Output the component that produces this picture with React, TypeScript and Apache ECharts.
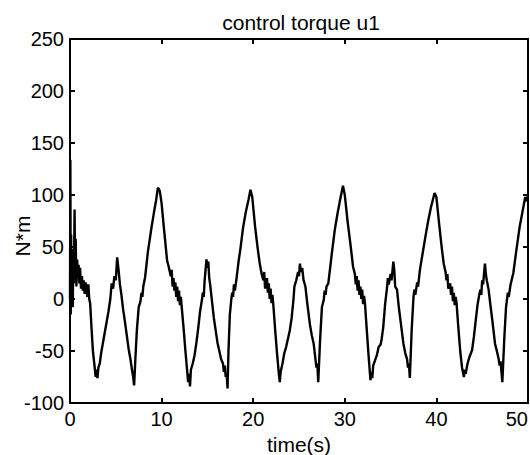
import React, { useEffect, useRef } from "react";
import * as echarts from "echarts";

const titleText = "control torque u1";
const xName = "time(s)";
const yName = "N*m";
const xTicks = [0, 10, 20, 30, 40, 50];
const yTicks = [-100, -50, 0, 50, 100, 150, 200, 250];

// cycle 1 (start-up transient)
const t1 = [0, 0.04, 0.08, 0.12, 0.18, 0.24, 0.3, 0.36, 0.42, 0.5, 0.56, 0.62, 0.7, 0.78, 0.86, 0.94, 1.02, 1.1, 1.2, 1.3, 1.4, 1.5, 1.6, 1.7, 1.8, 1.9, 2.0, 2.1, 2.2, 2.35, 2.5, 2.65, 2.8, 2.9, 3.0, 3.1, 3.25, 3.4, 3.6, 3.8, 4.0, 4.2, 4.4, 4.55, 4.7, 4.85, 5.0, 5.15, 5.3, 5.45, 5.6, 5.8, 6.0, 6.2, 6.4, 6.6, 6.8, 6.9, 7.0, 7.15, 7.3, 7.5, 7.7, 7.8, 7.9, 8.0, 8.2, 8.5, 8.9, 9.2, 9.4, 9.6];
const v1 = [0, 134, -15, 62, 5, 48, -8, 40, 15, 86, 22, 58, 12, 38, 20, 33, 15, 30, 10, 22, 8, 18, 5, 16, 10, 2, 14, 0, -4, -28, -50, -62, -75, -68, -76, -66, -62, -52, -42, -32, -22, -12, 0, 15, 10, 22, 18, 40, 28, 14, 5, -10, -22, -35, -48, -58, -70, -75, -83, -55, -30, -8, -2, 6, 2, 12, 21, 45, 69, 85, 95, 107];

// cycle 2
const t2 = [9.8, 10.0, 10.2, 10.4, 10.6, 10.8, 11.0, 11.1, 11.2, 11.3, 11.4, 11.5, 11.6, 11.7, 11.8, 11.9, 12.0, 12.1, 12.2, 12.4, 12.6, 12.8, 12.9, 13.0, 13.1, 13.2, 13.4, 13.6, 13.8, 14.0, 14.2, 14.4, 14.5, 14.6, 14.7, 14.8, 14.9, 15.0, 15.1, 15.2, 15.3, 15.5, 15.7, 15.9, 16.1, 16.3, 16.5, 16.7, 16.8, 16.9, 17.0, 17.1, 17.2, 17.3, 17.45, 17.6, 17.7, 17.8, 17.9, 18.0, 18.2, 18.4, 18.6, 18.9, 19.2, 19.5, 19.7];
const v2 = [104, 92, 73, 55, 37, 30, 22, 28, 12, 20, 8, 16, 2, 12, -2, 8, -6, 2, -8, -28, -50, -70, -80, -72, -84, -68, -62, -54, -42, -28, -12, -1, 6, 2, 18, 28, 38, 30, 36, 20, 14, -2, -18, -30, -42, -50, -58, -62, -70, -64, -75, -72, -86, -50, -15, -1, 6, 2, 14, 8, 21, 36, 48, 69, 84, 96, 105];

// cycle 3
const t3 = [19.9, 20.2, 20.5, 20.7, 20.9, 21.1, 21.2, 21.3, 21.5, 21.6, 21.7, 21.8, 21.9, 22.0, 22.1, 22.2, 22.4, 22.6, 22.8, 22.9, 23.0, 23.2, 23.4, 23.6, 23.8, 24.0, 24.2, 24.4, 24.5, 24.7, 24.9, 25.0, 25.1, 25.2, 25.35, 25.5, 25.7, 25.9, 26.0, 26.2, 26.4, 26.6, 26.8, 26.9, 27.0, 27.1, 27.3, 27.5, 27.7, 27.8, 27.9, 28.0, 28.2, 28.4, 28.6, 28.9, 29.2, 29.5, 29.8];
const v3 = [98, 70, 48, 35, 25, 18, 26, 10, 20, 6, 15, 0, 10, -4, 4, -6, -30, -52, -72, -80, -70, -62, -52, -46, -38, -30, -18, 0, 12, 18, 26, 22, 34, 26, 30, 18, 12, -4, -11, -25, -35, -43, -58, -66, -62, -80, -40, -8, -1, 8, 4, 12, 15, 30, 45, 66, 82, 96, 109];

// cycle 4
const t4 = [30.0, 30.3, 30.6, 30.9, 31.1, 31.2, 31.3, 31.4, 31.5, 31.6, 31.7, 31.8, 31.9, 32.0, 32.1, 32.2, 32.4, 32.6, 32.8, 32.9, 33.0, 33.1, 33.3, 33.5, 33.7, 33.9, 34.0, 34.2, 34.4, 34.6, 34.7, 34.8, 35.0, 35.1, 35.3, 35.4, 35.5, 35.7, 35.9, 36.1, 36.4, 36.6, 36.8, 36.9, 37.0, 37.1, 37.3, 37.5, 37.6, 37.7, 37.9, 38.0, 38.2, 38.5, 38.8, 39.1, 39.4, 39.8];
const v4 = [100, 75, 54, 31, 24, 14, 22, 8, 18, 4, 12, 0, 9, -5, 3, -4, -30, -55, -78, -70, -76, -64, -59, -54, -46, -44, -40, -27, -5, 10, 20, 14, 24, 18, 36, 28, 12, 9, -8, -22, -43, -52, -58, -66, -62, -76, -30, 2, 9, 4, 16, 12, 28, 44, 60, 75, 88, 102];

// cycle 5
const t5 = [40.0, 40.3, 40.6, 40.8, 41.0, 41.1, 41.2, 41.3, 41.5, 41.6, 41.7, 41.8, 41.9, 42.0, 42.1, 42.2, 42.4, 42.6, 42.8, 43.0, 43.1, 43.2, 43.4, 43.6, 43.9, 44.1, 44.3, 44.5, 44.7, 44.8, 44.9, 45.0, 45.1, 45.3, 45.4, 45.5, 45.7, 45.9, 46.1, 46.4, 46.6, 46.8, 46.9, 47.0, 47.2, 47.4, 47.6, 47.7, 47.8, 47.9, 48.1, 48.4, 48.7, 49.1, 49.4, 49.7, 49.85, 50.0];
const v5 = [98, 72, 48, 34, 26, 18, 24, 10, 15, 4, 12, -2, 6, -6, 2, -4, -28, -50, -66, -75, -68, -72, -62, -56, -49, -36, -20, -5, 5, 9, 4, 18, 14, 34, 24, 18, 9, -6, -20, -43, -50, -58, -64, -60, -80, -40, -8, -1, 6, 2, 14, 25, 45, 70, 84, 98, 94, 100];

const times = [...t1, ...t2, ...t3, ...t4, ...t5];
const torque = [...v1, ...v2, ...v3, ...v4, ...v5];

const FONT = "'Liberation Sans', Arial, sans-serif";

export default function App() {
  const ref = useRef<HTMLDivElement>(null);
  useEffect(() => {
    document.body.style.margin = "0";
    document.documentElement.style.overflow = "hidden";
    if (!ref.current) return;
    const chart = echarts.init(ref.current, null, { renderer: "svg" });
    const data = times.map((t, i) => [t, torque[i]]);
    const axisCommon = {
      type: "value" as const,
      axisLine: { show: true, onZero: false, lineStyle: { color: "#000", width: 2 } },
      axisTick: { show: true, inside: true, length: 5, lineStyle: { color: "#000", width: 2 } },
      splitLine: { show: false },
    };
    chart.setOption({
      animation: false,
      backgroundColor: "#fff",
      title: {
        text: titleText,
        left: 296,
        top: 7,
        textAlign: "center",
        textStyle: { fontFamily: FONT, fontSize: 21, fontWeight: "normal", color: "#000" },
      },
      grid: {
        left: 70,
        right: 2,
        top: 39,
        bottom: 52,
        containLabel: false,
        outerBoundsMode: "none",
      },
      xAxis: [
        {
          ...axisCommon,
          min: xTicks[0],
          max: xTicks[xTicks.length - 1],
          interval: 10,
          position: "bottom",
          name: xName,
          nameLocation: "middle",
          nameGap: 25,
          nameTextStyle: { fontFamily: FONT, fontSize: 21, color: "#000" },
          axisLabel: {
            fontFamily: FONT,
            fontSize: 20,
            color: "#000",
            margin: 6,
            alignMaxLabel: "right",
          },
        },
        {
          ...axisCommon,
          min: xTicks[0],
          max: xTicks[xTicks.length - 1],
          interval: 10,
          position: "top",
          axisLabel: { show: false },
        },
      ],
      yAxis: [
        {
          ...axisCommon,
          min: yTicks[0],
          max: yTicks[yTicks.length - 1],
          interval: 50,
          position: "left",
          axisLabel: { fontFamily: FONT, fontSize: 20, color: "#000", margin: 6 },
        },
        {
          ...axisCommon,
          min: yTicks[0],
          max: yTicks[yTicks.length - 1],
          interval: 50,
          position: "right",
          axisLabel: { show: false },
        },
      ],
      graphic: [
        {
          type: "text",
          x: 22,
          y: 236,
          rotation: Math.PI / 2,
          style: {
            text: yName,
            fontFamily: FONT,
            fontSize: 21,
            fill: "#000",
            align: "center",
            verticalAlign: "middle",
          },
        },
      ],
      series: [
        {
          type: "line",
          data,
          xAxisIndex: 0,
          yAxisIndex: 0,
          showSymbol: false,
          symbol: "none",
          lineStyle: { color: "#000", width: 2.4 },
          clip: true,
        },
      ],
    });
    return () => chart.dispose();
  }, []);
  return (
    <div
      ref={ref}
      style={{ position: "fixed", left: 0, top: 0, width: 530, height: 455 }}
    />
  );
}
